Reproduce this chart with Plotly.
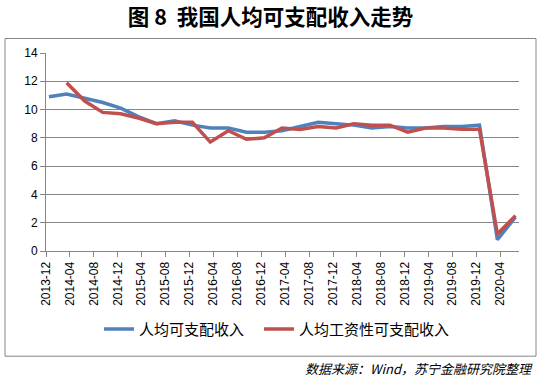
import plotly.graph_objects as go

# Quarterly data (cumulative y/y growth, %)
QUARTERS = [
    "2013-12",
    "2014-03", "2014-06", "2014-09", "2014-12",
    "2015-03", "2015-06", "2015-09", "2015-12",
    "2016-03", "2016-06", "2016-09", "2016-12",
    "2017-03", "2017-06", "2017-09", "2017-12",
    "2018-03", "2018-06", "2018-09", "2018-12",
    "2019-03", "2019-06", "2019-09", "2019-12",
    "2020-03", "2020-06",
]
DISPOSABLE = [
    10.9,
    11.1, 10.8, 10.5, 10.1,
    9.5, 9.0, 9.2, 8.9,
    8.7, 8.7, 8.4, 8.4,
    8.5, 8.8, 9.1, 9.0,
    8.9, 8.7, 8.8, 8.7,
    8.7, 8.8, 8.8, 8.9,
    0.8, 2.4,
]
WAGE = [
    None,
    11.9, 10.6, 9.8, 9.7,
    9.4, 9.0, 9.1, 9.1,
    7.7, 8.5, 7.9, 8.0,
    8.7, 8.6, 8.8, 8.7,
    9.0, 8.9, 8.9, 8.4,
    8.7, 8.7, 8.6, 8.6,
    1.2, 2.5,
]
TICK_LABELS = [
    "2013-12", "2014-04", "2014-08", "2014-12", "2015-04", "2015-08", "2015-12",
    "2016-04", "2016-08", "2016-12", "2017-04", "2017-08", "2017-12", "2018-04",
    "2018-08", "2018-12", "2019-04", "2019-08", "2019-12", "2020-04",
]
SERIES_NAMES = ["人均可支配收入", "人均工资性可支配收入"]

x_dates = [q + "-16" for q in QUARTERS]
tick_vals = [t + "-01" for t in TICK_LABELS]

FONT = "Liberation Sans, Arial, Noto Sans CJK SC, sans-serif"
CJK = "Noto Sans CJK SC, Liberation Sans, sans-serif"

fig = go.Figure()
fig.add_trace(go.Scatter(x=x_dates, y=DISPOSABLE, mode="lines", name=SERIES_NAMES[0],
                         line=dict(color="#4F81BD", width=3.5), legend="legend"))
fig.add_trace(go.Scatter(x=x_dates, y=WAGE, mode="lines", name=SERIES_NAMES[1],
                         line=dict(color="#C0504D", width=3.5), legend="legend2"))

L, R, T, B = 46, 519, 52.5, 250.7
W, H = 541, 378
pw, ph = R - L, B - T

def px(x):
    return (x - L) / pw

def py(y):
    return (B - y) / ph

legend_common = dict(orientation="h", xanchor="left", yanchor="middle",
                     font=dict(family=CJK, size=15, color="#000000"), itemwidth=30,
                     bgcolor="rgba(0,0,0,0)")

fig.update_layout(
    width=W, height=H,
    margin=dict(l=L, r=W - R, t=T, b=H - B, pad=0),
    paper_bgcolor="white", plot_bgcolor="white",
    font=dict(family=FONT, size=12, color="#000000"),
    title=dict(text="<b>图 8  我国人均可支配收入走势</b>", x=0.5, xref="container",
               xanchor="center", y=1 - 17 / H, yref="container", yanchor="middle",
               font=dict(family=CJK, size=21.5, color="#000000")),
    showlegend=True,
    legend=dict(x=px(99), y=py(329), **legend_common),
    legend2=dict(x=px(259), y=py(329), **legend_common),
    xaxis=dict(type="date", range=["2013-12-01", "2020-07-04"],
               tickmode="array", tickvals=tick_vals, ticktext=TICK_LABELS,
               tickangle=-90, ticks="outside", ticklen=5, tickcolor="#868686",
               showline=True, linecolor="#868686", linewidth=1, showgrid=False,
               tickfont=dict(family=FONT, size=12, color="#000000")),
    yaxis=dict(range=[0, 14], dtick=2, tick0=0, ticks="outside", ticklen=5,
               tickcolor="#868686", showline=True, linecolor="#868686", linewidth=1,
               showgrid=True, gridcolor="#868686", gridwidth=1, zeroline=False,
               tickfont=dict(family=FONT, size=12, color="#000000")),
    shapes=[dict(type="rect", xref="paper", yref="paper",
                 x0=px(5), x1=px(536), y0=py(356), y1=py(38),
                 line=dict(color="#868686", width=1), fillcolor="rgba(0,0,0,0)", layer="below")],
    annotations=[dict(text="<i>数据来源：Wind，苏宁金融研究院整理</i>", xref="paper", yref="paper",
                      x=px(535), y=py(368), xanchor="right", yanchor="middle", showarrow=False,
                      font=dict(family=CJK, size=13, color="#000000"))],
)

fig.write_html("out.html", config={"displayModeBar": False},
               post_script="document.body.style.margin='0';document.body.style.overflow='hidden';")
